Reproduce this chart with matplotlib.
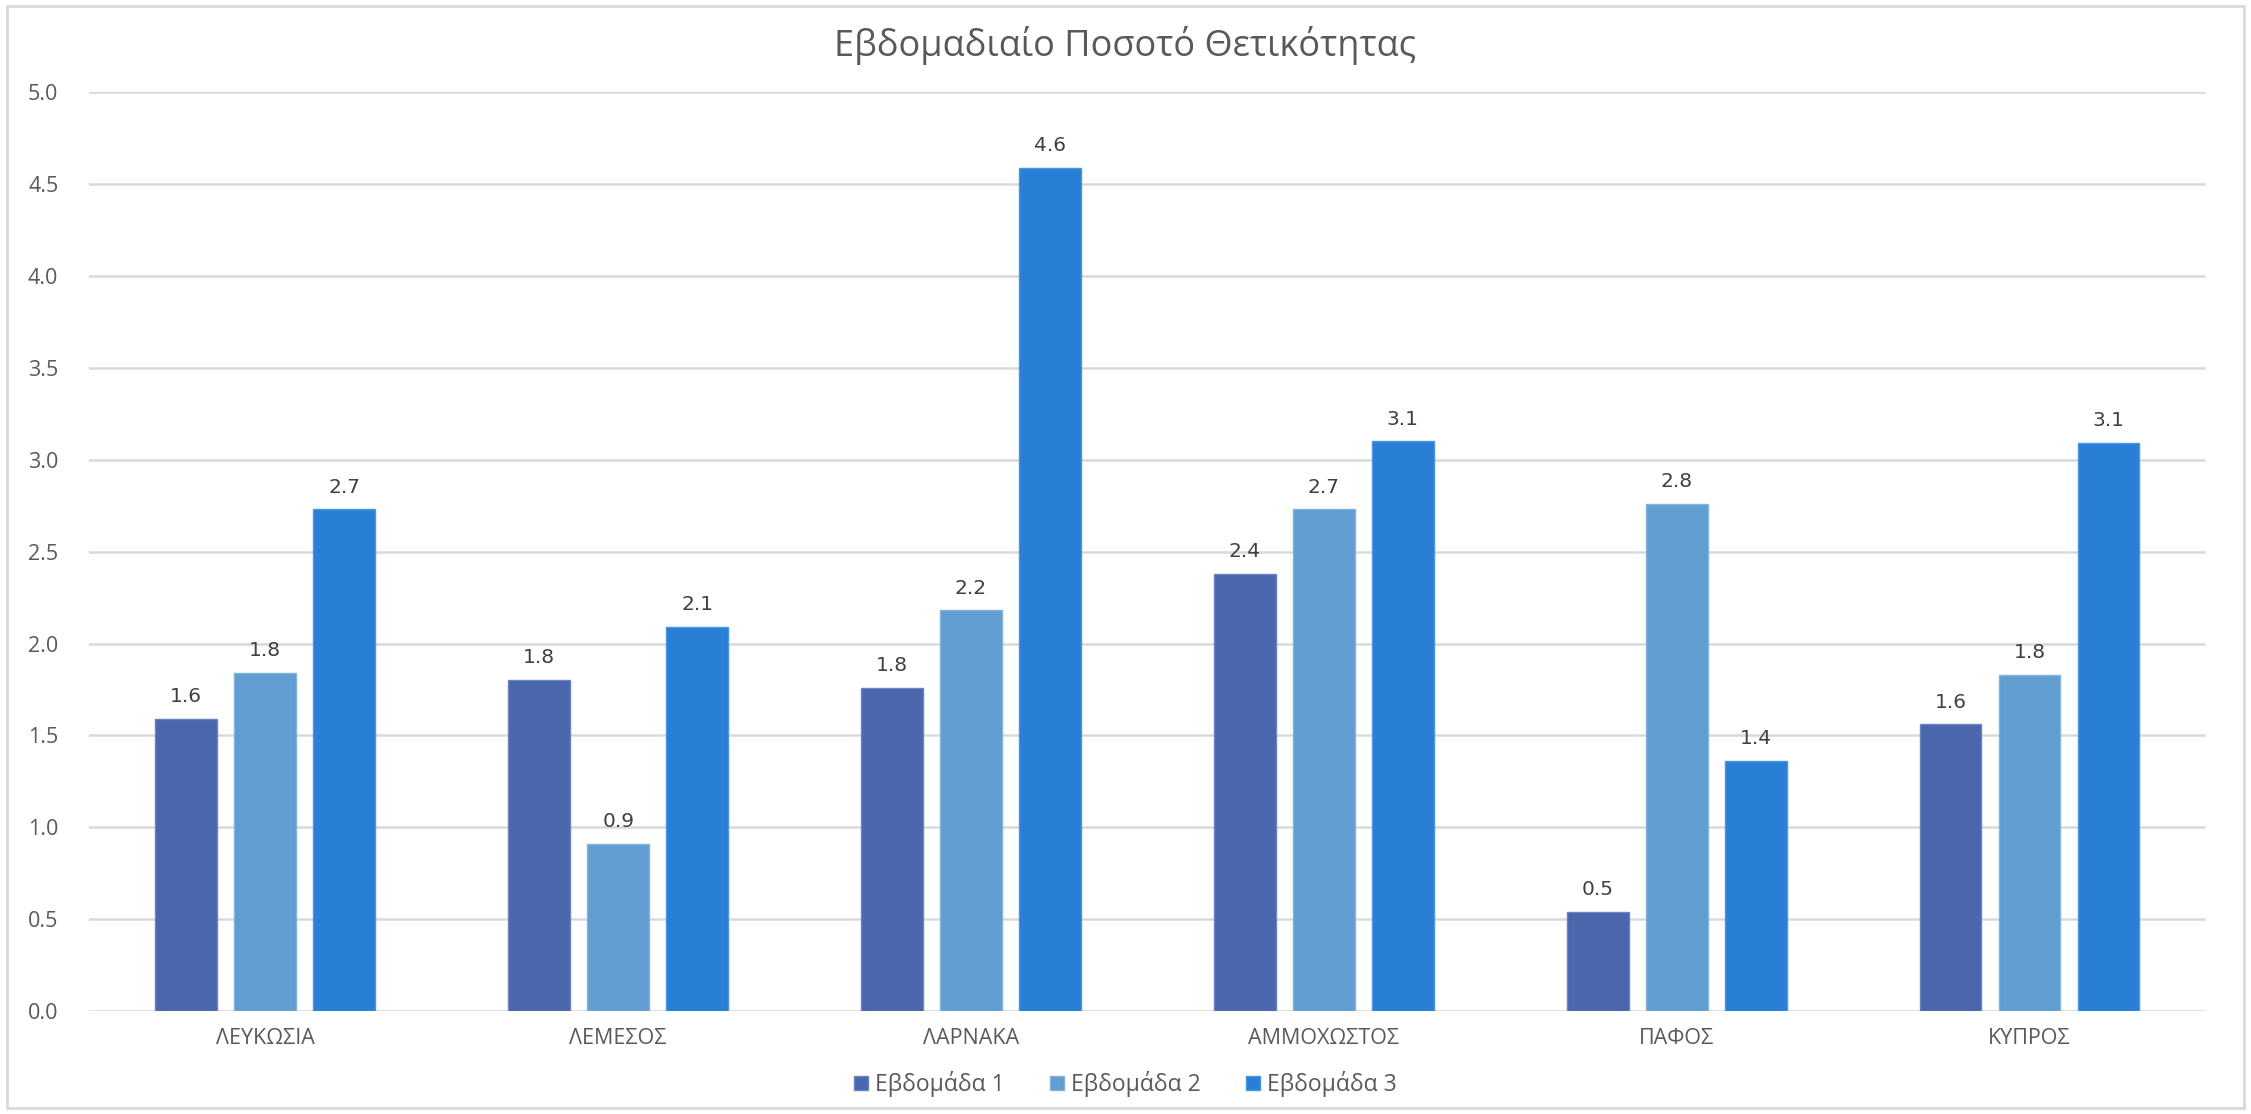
import numpy as np
import matplotlib.pyplot as plt
from matplotlib.patches import Rectangle

categories = ["ΛΕΥΚΩΣΙΑ", "ΛΕΜΕΣΟΣ", "ΛΑΡΝΑΚΑ", "ΑΜΜΟΧΩΣΤΟΣ", "ΠΑΦΟΣ", "ΚΥΠΡΟΣ"]
series_names = ["Εβδομάδα 1", "Εβδομάδα 2", "Εβδομάδα 3"]
week1 = [1.59, 1.80, 1.76, 2.38, 0.54, 1.56]
week2 = [1.84, 0.91, 2.18, 2.73, 2.76, 1.83]
week3 = [2.73, 2.09, 4.59, 3.10, 1.36, 3.09]
colors = ["#4A66AC", "#629DD1", "#297FD5"]
edge_colors = ["#6A84C0", "#82B3DD", "#4B96E0"]
yticks = [0.0, 0.5, 1.0, 1.5, 2.0, 2.5, 3.0, 3.5, 4.0, 4.5, 5.0]

fig = plt.figure(figsize=(22.51, 11.14), dpi=100)
ax = fig.add_axes([0.0395, 0.0925, 0.9405, 0.8245])

x = np.arange(len(categories))
width = 0.175
step = 0.224
text_col = "#595959"

for k, (vals, name) in enumerate(zip([week1, week2, week3], series_names)):
    bars = ax.bar(x + (k - 1) * step, vals, width, color=colors[k],
                  edgecolor=edge_colors[k], linewidth=1, label=name, zorder=3)
    for b, v in zip(bars, vals):
        ax.text(b.get_x() + b.get_width() / 2, v + 0.07, f"{v:.1f}",
                ha="center", va="bottom", fontsize=14.5, color="#404040",
                family="DejaVu Sans")

ax.set_xlim(-0.5, len(categories) - 0.5)
ax.set_ylim(0, 5.0)
ax.set_yticks(yticks)
ax.set_yticklabels([f"{t:.1f}" for t in yticks], family="Open Sans",
                   fontsize=15.5, color=text_col)
ax.set_xticks(x)
ax.set_xticklabels(categories, family="Open Sans", fontsize=15.5, color=text_col)
ax.tick_params(axis="both", length=0, pad=12)
ax.tick_params(axis="y", pad=22)
ax.yaxis.grid(True, color="#D9D9D9", linewidth=1.8, zorder=0)
ax.set_axisbelow(True)
for s in ax.spines.values():
    s.set_visible(False)

fig.text(0.5, 0.959, "Εβδομαδιαίο Ποσοτό Θετικότητας", ha="center", va="center",
         family="Open Sans", fontsize=26, color=text_col)

ax.legend(loc="center", bbox_to_anchor=(0.5, 0.027), bbox_transform=fig.transFigure,
          ncol=3, frameon=False, handlelength=0.6, handleheight=0.6,
          handletextpad=0.3, columnspacing=2.0,
          prop={"family": "Open Sans", "size": 16.5}, labelcolor=text_col)

fig.patches.append(Rectangle((0.003, 0.005), 0.994, 0.99, transform=fig.transFigure,
                             fill=False, edgecolor="#D9D9D9", linewidth=2))

fig.savefig("out.png", dpi=100, facecolor="white")
